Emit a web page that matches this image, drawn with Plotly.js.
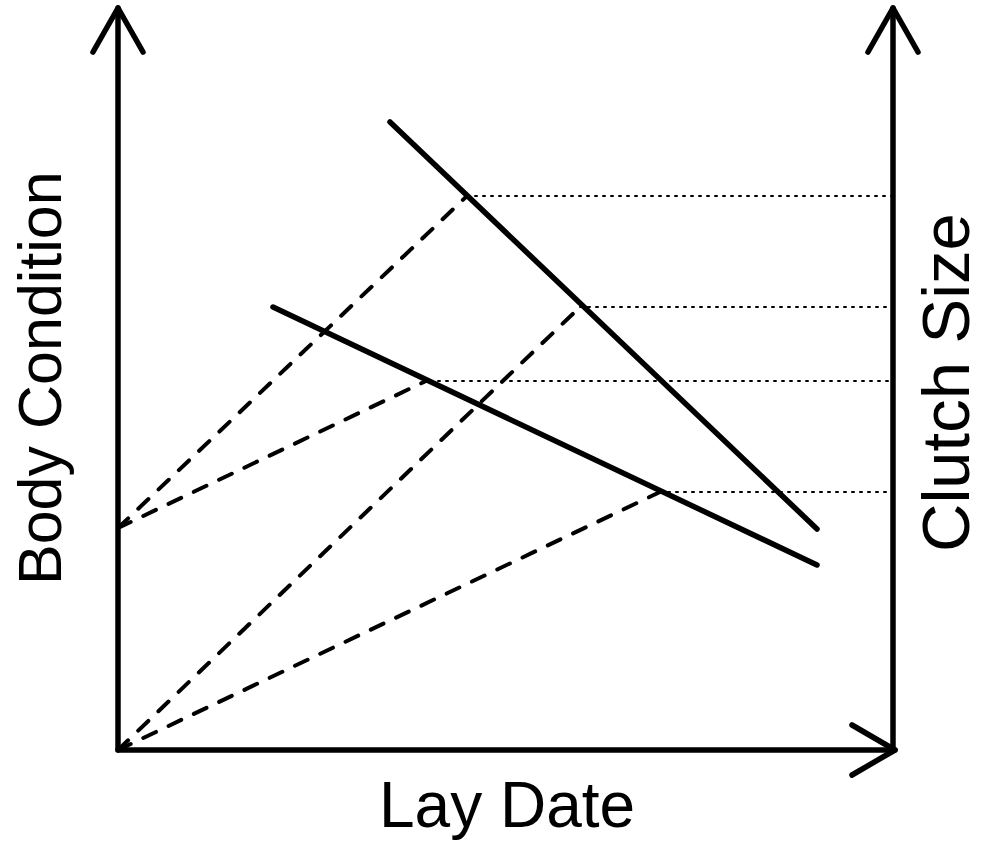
<!DOCTYPE html>
<html>
<head>
<meta charset="utf-8">
<script src="https://cdn.plot.ly/plotly-3.0.1.min.js"></script>
<style>
html, body { margin: 0; padding: 0; background: #fff; }
#chart { width: 982px; height: 846px; }
path.js-line { stroke-linecap: round; stroke-linejoin: round; }
</style>
</head>
<body>
<div id="chart"></div>
<script>
// Conceptual diagram coordinates (origin at axes corner; units ~ px)
const xAxisLen = 777;      // Lay Date axis length
const yAxisLen = 742;      // Body Condition / Clutch Size axis height
const rightAxisX = 775;    // position of the Clutch Size axis

// Solid lines: clutch size vs lay date (two reaction norms)
const steepX = [272, 699];
const steepY = [628, 221];
const shallowX = [155, 699];
const shallowY = [443, 185];

// Dashed lines: body condition projections
const dashStartX = [0, 0, 0, 0];
const dashStartY = [222, 222, 0, 0];
const dashEndX = [349, 308, 462, 542];
const dashEndY = [554, 369, 443, 258];

// Dotted guides to clutch size axis
const guideStartX = [349, 462, 312, 542];
const guideY = [554, 443, 369, 258];

// Axis labels
const labelX = "Lay Date";
const labelLeft = "Body Condition";
const labelRight = "Clutch Size";

const traces = [];
const black = '#000';

function line(xs, ys, w, dash) {
  traces.push({
    type: 'scatter', mode: 'lines', x: xs, y: ys,
    line: { color: black, width: w, dash: dash || 'solid' },
    hoverinfo: 'skip', showlegend: false
  });
}

// axes
line([0, 0], [0, yAxisLen], 5.5);
line([rightAxisX, rightAxisX], [0, yAxisLen], 5.5);
line([0, xAxisLen], [0, 0], 5.5);
// arrowheads
line([-25, 0, 25], [yAxisLen - 44, yAxisLen, yAxisLen - 44], 5.5);
line([rightAxisX - 25, rightAxisX, rightAxisX + 25], [yAxisLen - 44, yAxisLen, yAxisLen - 44], 5.5);
line([xAxisLen - 43, xAxisLen, xAxisLen - 43], [25, 0, -25], 5.5);

// dotted guides
for (let i = 0; i < guideY.length; i++) {
  line([guideStartX[i], rightAxisX], [guideY[i], guideY[i]], 2, '2px,6px');
}
// dashed projections
for (let i = 0; i < dashEndX.length; i++) {
  line([dashStartX[i], dashEndX[i]], [dashStartY[i], dashEndY[i]], 4, '14px,14px');
}
// solid reaction norms
line(steepX, steepY, 5.5);
line(shallowX, shallowY, 5.5);

const font = { family: 'Liberation Sans, Arial, sans-serif', color: black };

const layout = {
  width: 982, height: 846,
  margin: { l: 0, r: 0, t: 0, b: 0, pad: 0 },
  paper_bgcolor: '#fff', plot_bgcolor: '#fff',
  showlegend: false, hovermode: false,
  xaxis: { range: [-118, 864], visible: false, fixedrange: true },
  yaxis: { range: [-96, 750], visible: false, fixedrange: true },
  annotations: [
    { x: 389, y: -55, xref: 'x', yref: 'y', text: labelX, showarrow: false,
      xanchor: 'center', yanchor: 'middle', font: Object.assign({ size: 64 }, font) },
    { x: -78, y: 372, xref: 'x', yref: 'y', text: labelLeft, showarrow: false, textangle: -90,
      xanchor: 'center', yanchor: 'middle', font: Object.assign({ size: 61 }, font) },
    { x: 827, y: 367, xref: 'x', yref: 'y', text: labelRight, showarrow: false, textangle: -90,
      xanchor: 'center', yanchor: 'middle', font: Object.assign({ size: 67 }, font) }
  ]
};

Plotly.newPlot('chart', traces, layout, { staticPlot: true, displayModeBar: false });
</script>
</body>
</html>
